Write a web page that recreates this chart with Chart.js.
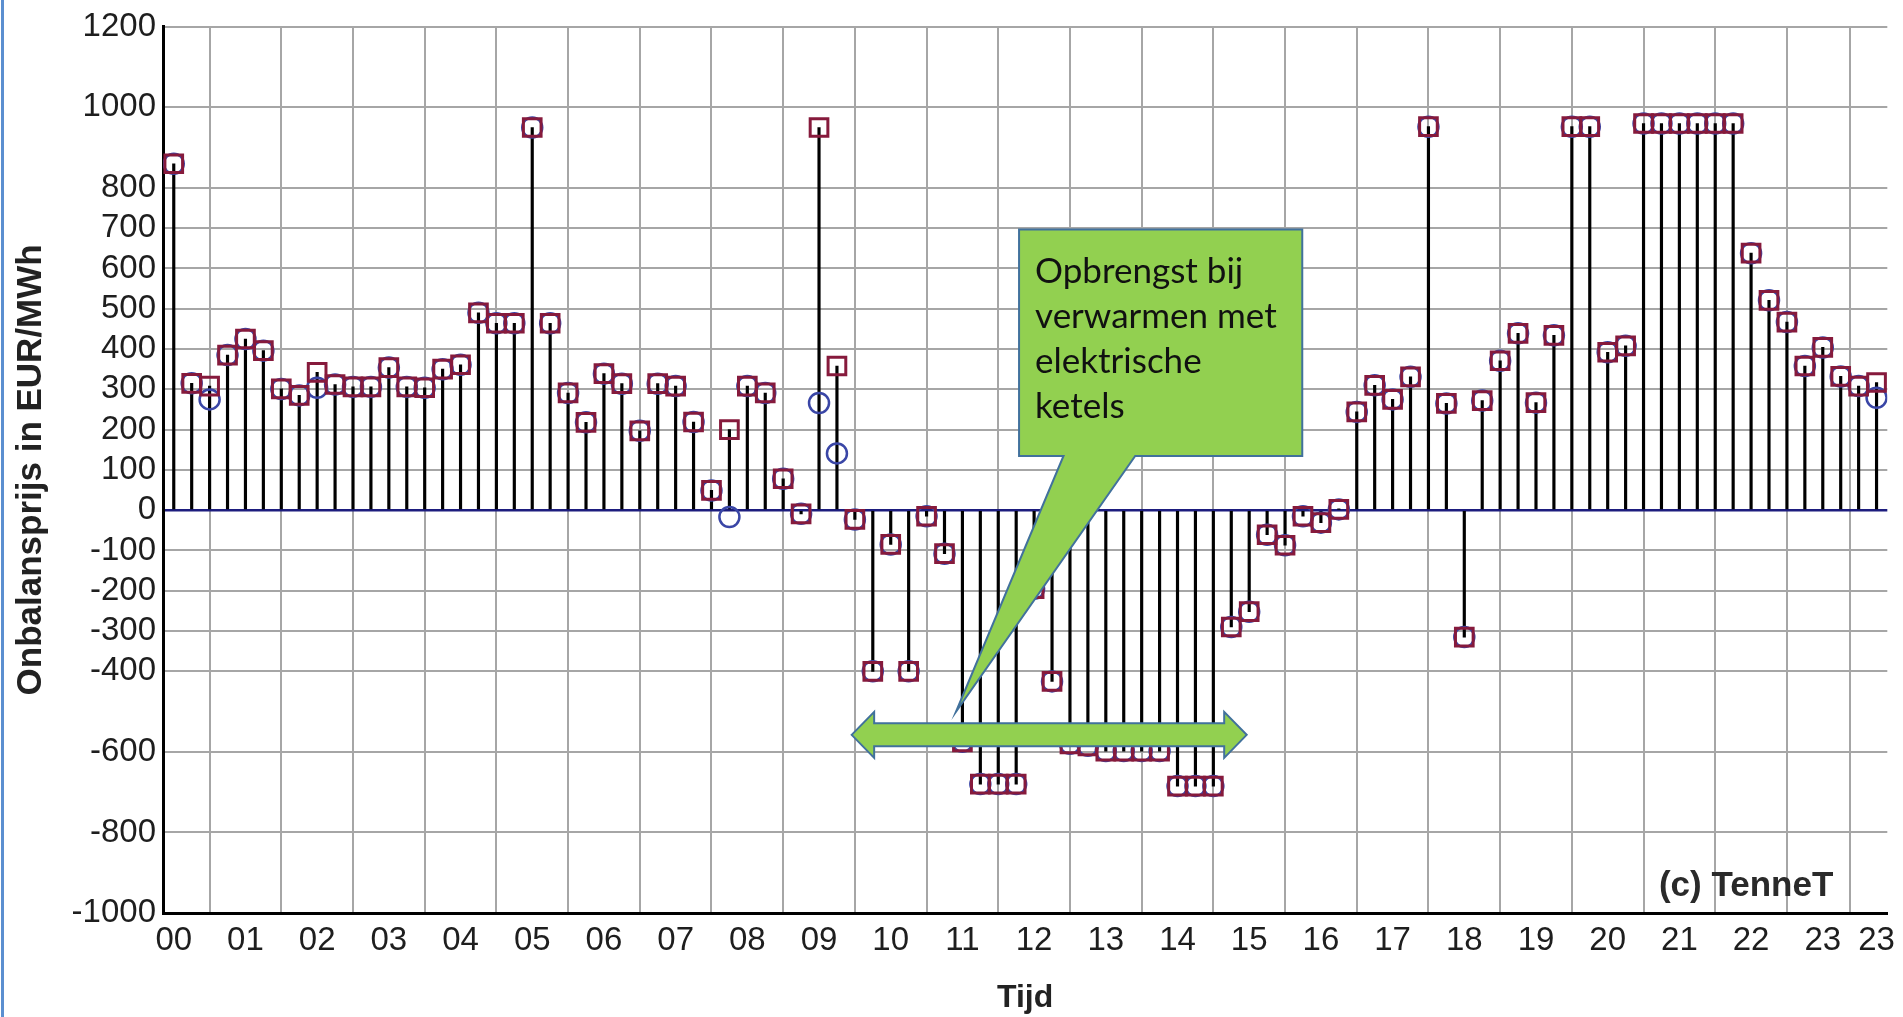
<!DOCTYPE html>
<html><head><meta charset="utf-8">
<script src="https://cdn.jsdelivr.net/npm/chart.js@4.4.1/dist/chart.umd.min.js"></script>
<style>
html,body{margin:0;padding:0;background:#fff;}
#wrap{position:relative;width:1903px;height:1017px;overflow:hidden;background:#fff;}
#edge{position:absolute;left:1px;top:0;width:3px;height:1017px;background:#5b8fd0;}
canvas{position:absolute;left:0;top:0;}
</style></head><body>
<div id="wrap"><canvas id="c" width="1903" height="1017"></canvas><div id="edge"></div></div>
<script>
const times = [
 '00:00','00:15','00:30','00:45','01:00','01:15','01:30','01:45',
 '02:00','02:15','02:30','02:45','03:00','03:15','03:30','03:45',
 '04:00','04:15','04:30','04:45','05:00','05:15','05:30','05:45',
 '06:00','06:15','06:30','06:45','07:00','07:15','07:30','07:45',
 '08:00','08:15','08:30','08:45','09:00','09:15','09:30','09:45',
 '10:00','10:15','10:30','10:45','11:00','11:15','11:30','11:45',
 '12:00','12:15','12:30','12:45','13:00','13:15','13:30','13:45',
 '14:00','14:15','14:30','14:45','15:00','15:15','15:30','15:45',
 '16:00','16:15','16:30','16:45','17:00','17:15','17:30','17:45',
 '18:00','18:15','18:30','18:45','19:00','19:15','19:30','19:45',
 '20:00','20:15','20:30','20:45','21:00','21:15','21:30','21:45',
 '22:00','22:15','22:30','22:45','23:00','23:15','23:30','23:45'];
// square markers (stems go to these)
const squarePrices = [
 860,315,308,385, 425,396,301,285,
 342,312,306,306, 354,306,304,350,
 361,490,464,464, 950,464,291,218,
 339,314,197,314, 308,219,49,200,
 308,291,78,-9, 950,358,-23,-400,
 -85,-400,-15,-108, -575,-680,-680,-680,
 -195,-425,-580,-585, -598,-598,-598,-598,
 -685,-685,-685,-290, -252,-61,-87,-15,
 -31,2,244,310, 275,331,952,265,
 -315,272,371,439, 267,434,952,952,
 392,408,960,960, 960,960,960,960,
 638,521,467,358, 404,332,308,317];
// circle markers
const circlePrices = [
 860,315,275,385, 425,396,301,285,
 304,312,306,306, 354,306,304,350,
 361,490,464,464, 950,464,291,218,
 339,314,197,314, 308,219,49,-17,
 308,291,78,-9, 266,141,-23,-400,
 -85,-400,-15,-108, -575,-680,-680,-680,
 -195,-425,-580,-585, -598,-598,-598,-598,
 -685,-685,-685,-290, -252,-61,-87,-15,
 -31,2,244,310, 275,331,952,265,
 -315,272,371,439, 267,434,952,952,
 392,408,960,960, 960,960,960,960,
 638,521,467,358, 404,332,308,279];
const yTickValues = [1200,1000,800,700,600,500,400,300,200,100,0,-100,-200,-300,-400,-600,-800,-1000];
const xTickHours = [0,1,2,3,4,5,6,7,8,9,10,11,12,13,14,15,16,17,18,19,20,21,22,23,23.75];
const xTickLabels = ['00','01','02','03','04','05','06','07','08','09','10','11','12','13','14','15','16','17','18','19','20','21','22','23','23'];
const yTitle = 'Onbalansprijs in EUR/MWh';
const xTitle = 'Tijd';
const copyrightText = '(c) TenneT';
const calloutLines = ['Opbrengst bij','verwarmen met','elektrische','ketels'];

// annotation geometry (in axis units)
const callout = {x0:11.79, x1:15.74, yTop:697, yBottom:134.5, baseX0:12.41, baseX1:13.41, tipX:10.91, tipY:-500.6};
const arrow = {x0:9.455, x1:14.965, y:-557.7};

function toHours(t){const p=t.split(':').map(Number);return p[0]+p[1]/60;}
const xs = times.map(toHours);
const sqData = squarePrices.map((v,i)=>({x:xs[i],y:v}));
const ciData = circlePrices.map((v,i)=>({x:xs[i],y:v}));

const annot = {
  id:'annot',
  afterDatasetsDraw(chart){
    const {ctx, chartArea} = chart;
    const X = chart.scales.x, Y = chart.scales.y;
    ctx.save();
    // (c) TenneT
    ctx.font = 'bold 35px "Liberation Sans", Arial, sans-serif';
    ctx.fillStyle = '#2a2a2a';
    ctx.textAlign = 'right'; ctx.textBaseline = 'alphabetic';
    ctx.fillText(copyrightText, chartArea.right - 54, chartArea.bottom - 17);
    // callout
    const L = X.getPixelForValue(callout.x0), R = X.getPixelForValue(callout.x1);
    const T = Y.getPixelForValue(callout.yTop), B = Y.getPixelForValue(callout.yBottom);
    const P0 = X.getPixelForValue(callout.baseX0), P1 = X.getPixelForValue(callout.baseX1);
    const tx = X.getPixelForValue(callout.tipX), ty = Y.getPixelForValue(callout.tipY);
    ctx.beginPath();
    ctx.moveTo(L,T); ctx.lineTo(R,T); ctx.lineTo(R,B); ctx.lineTo(P1,B); ctx.lineTo(tx,ty); ctx.lineTo(P0,B); ctx.lineTo(L,B); ctx.closePath();
    ctx.fillStyle = '#92d050'; ctx.fill();
    ctx.strokeStyle = '#41719c'; ctx.lineWidth = 2; ctx.lineJoin='miter'; ctx.stroke();
    ctx.fillStyle = '#111';
    ctx.font = '35px Lato, "Open Sans", sans-serif';
    ctx.textAlign = 'left';
    calloutLines.forEach((s,i)=>ctx.fillText(s, L + 16, T + 54 + i*45));
    // double arrow
    const a0 = X.getPixelForValue(arrow.x0), a1 = X.getPixelForValue(arrow.x1), ay = Y.getPixelForValue(arrow.y);
    const sh = 11.5, hh = 23, hl = 22.5;
    ctx.beginPath();
    ctx.moveTo(a0, ay);
    ctx.lineTo(a0+hl, ay-hh); ctx.lineTo(a0+hl, ay-sh); ctx.lineTo(a1-hl, ay-sh); ctx.lineTo(a1-hl, ay-hh);
    ctx.lineTo(a1, ay);
    ctx.lineTo(a1-hl, ay+hh); ctx.lineTo(a1-hl, ay+sh); ctx.lineTo(a0+hl, ay+sh); ctx.lineTo(a0+hl, ay+hh);
    ctx.closePath();
    ctx.fillStyle = '#92d050'; ctx.fill();
    ctx.strokeStyle = '#41719c'; ctx.lineWidth = 2; ctx.stroke();
    ctx.restore();
  }
};

const tickFont = {family:'"Liberation Sans", Arial, sans-serif', size:33};
new Chart(document.getElementById('c'), {
  type:'bar',
  data:{datasets:[
    {type:'line', data:sqData, showLine:false, pointStyle:'rect', pointRadius:12.5, pointHoverRadius:12.5,
     pointBorderWidth:3, pointBorderColor:'#861a3c', pointBackgroundColor:'rgba(0,0,0,0)', order:0},
    {type:'line', data:ciData, showLine:false, pointStyle:'circle', pointRadius:10, pointHoverRadius:10,
     pointBorderWidth:2.5, pointBorderColor:'#3a46a6', pointBackgroundColor:'rgba(0,0,0,0)', order:1},
    {type:'bar', data:sqData, backgroundColor:'#000', barThickness:2.5, order:2}
  ]},
  options:{
    responsive:false, animation:false, devicePixelRatio:1,
    layout:{padding:{left:0,right:15,top:23,bottom:0}},
    plugins:{legend:{display:false}, tooltip:{enabled:false}},
    scales:{
      x:{type:'linear', min:-0.15, max:23.9, offset:false,
        afterBuildTicks:a=>{a.ticks = xTickHours.map(v=>({value:v}));},
        afterFit:a=>{a.height = 104;},
        ticks:{autoSkip:false, maxRotation:0, minRotation:0, callback:(v,i)=>xTickLabels[i], font:tickFont, color:'#1e1e1e', padding:8},
        grid:{color:'#a6a6a6', lineWidth:2, drawTicks:false},
        border:{color:'#000', width:3},
        title:{display:true, text:xTitle, color:'#222', font:{family:'"Liberation Sans", Arial, sans-serif', size:32, weight:'bold'}, padding:{top:0,bottom:0}}
      },
      y:{type:'linear', min:-1000, max:1200,
        afterBuildTicks:a=>{a.ticks = yTickValues.map(v=>({value:v}));},
        afterFit:a=>{a.width = 163;},
        ticks:{autoSkip:false, font:tickFont, color:'#1e1e1e', padding:7, callback:v=>String(v)},
        grid:{color:c=>(c.tick && c.tick.value===0)?'#1d1d7e':'#a6a6a6', lineWidth:c=>(c.tick && c.tick.value===0)?2.5:2, drawTicks:false},
        border:{color:'#000', width:3},
        title:{display:true, text:yTitle, color:'#222', font:{family:'"Liberation Sans", Arial, sans-serif', size:35, weight:'bold'}, padding:{top:10,bottom:0}}
      }
    }
  },
  plugins:[annot]
});
</script>
</body></html>
